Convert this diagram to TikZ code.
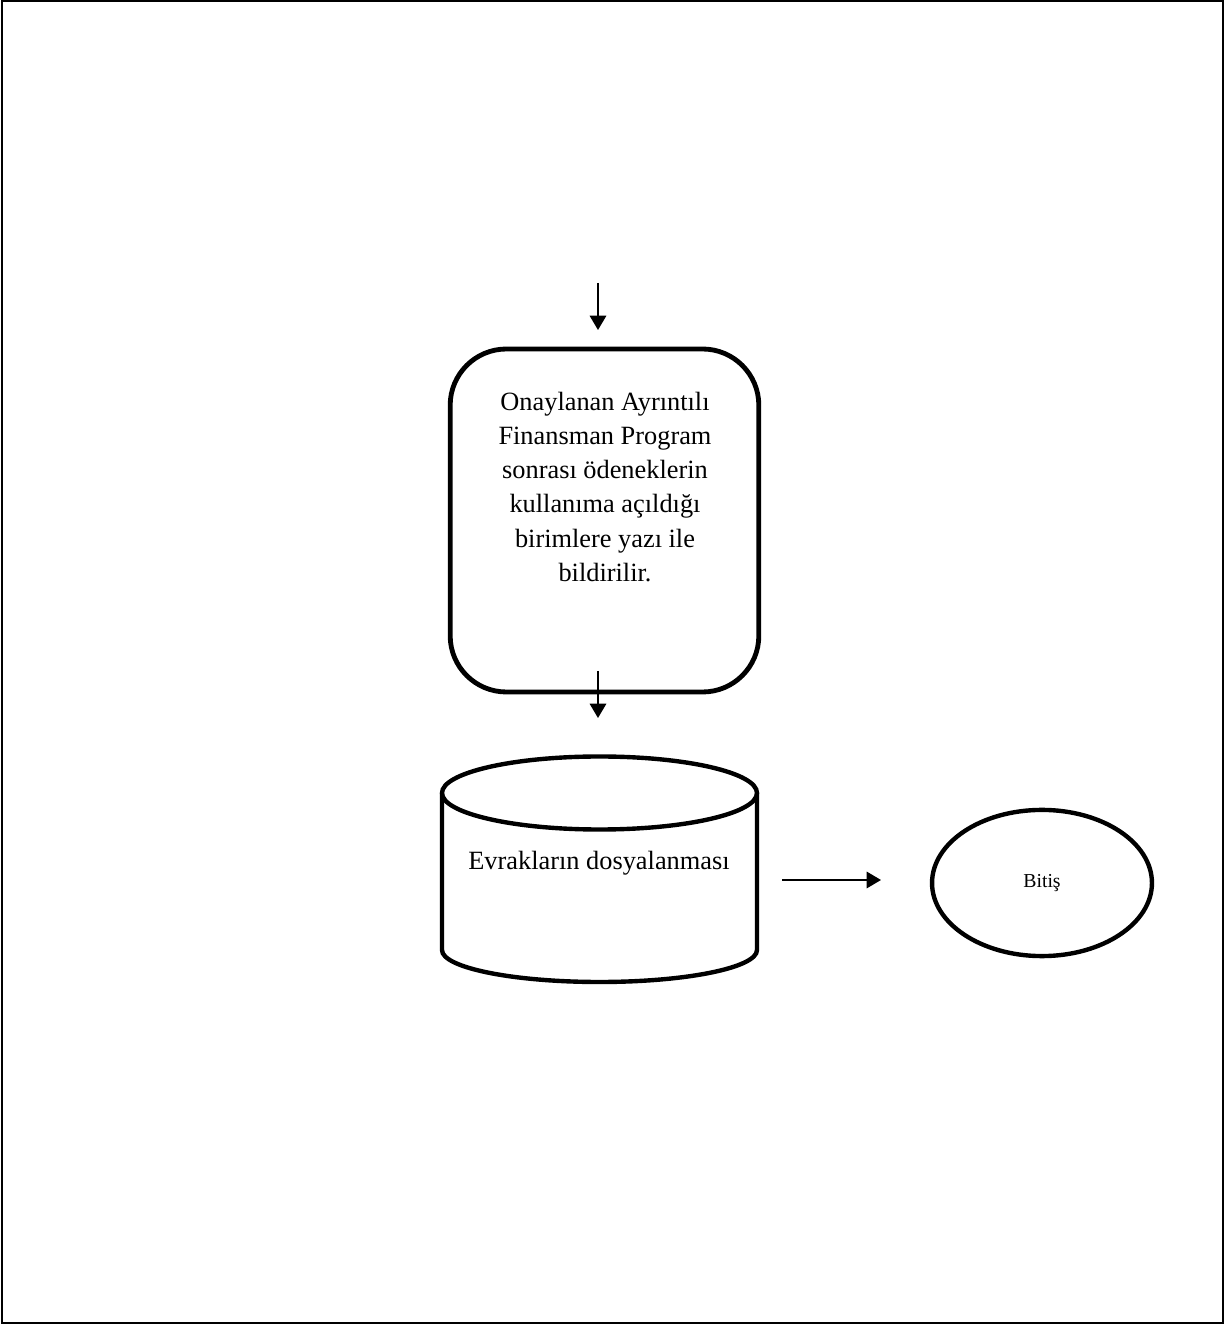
\documentclass[tikz,border=0pt]{standalone}
\usepackage{fontspec}
\setmainfont{Liberation Serif}
\usetikzlibrary{arrows.meta,shapes.geometric,positioning}
\tikzset{
    % flow arrows
    flowarrow/.style={
        line width=0.7pt,
        black,
        -{Triangle[length=6.5pt, width=7.5pt]}
    },
    stepbox/.style={
        draw,
        line width=2.2pt,
        rounded corners=0.9cm,
        minimum width=4.94cm,
        minimum height=5.49cm,
        inner sep=0pt
    },
    dbline/.style={line width=2pt, black},
    endnode/.style={
        draw,
        ellipse,
        line width=2pt,
        minimum width=3.52cm,
        minimum height=2.34cm,
        inner sep=0pt,
        font=\fontsize{9}{11}\selectfont
    }
}

\begin{document}
\begin{tikzpicture}[x=0.016cm,y=0.016cm]
    \useasboundingbox (0,0) rectangle (1228,1327);
    % frame
    \draw[line width=0.9pt] (2,4) rectangle (1223,1326);

    \path
    (598,1044) coordinate (a1s)
    (598,997) coordinate (a1e)
    (598,656) coordinate (a2s)
    (598,609) coordinate (a2e)
    (782,447) coordinate (a3s)
    (881,447) coordinate (a3e)
    ;

    % step box
    \node[stepbox] (step) at (604.5,806.5) {};
    \node[align=center, font=\fontsize{12}{15.5}\selectfont] (steptext) at (605,840)
    {Onaylanan Ayrıntılı\\Finansman Program\\sonrası ödeneklerin\\kullanıma açıldığı\\birimlere yazı ile\\bildirilir.};

    % database
    \draw[dbline] (442,534) -- (442,377) arc[start angle=180, end angle=360, x radius=157.5, y radius=32] -- (757,534);
    \draw[dbline] (599.5,534) ellipse[x radius=157.5, y radius=36.5];
    \node[font=\fontsize{12}{15.5}\selectfont] (dbtext) at (599,464) {Evrakların dosyalanması};

    % end
    \node[endnode] (bitis) at (1042,444) {Bitiş};

    % arrows
    \draw[flowarrow] (a1s) -- (a1e);
    \draw[flowarrow] (a2s) -- (a2e);
    \draw[flowarrow] (a3s) -- (a3e);
\end{tikzpicture}
\end{document}
